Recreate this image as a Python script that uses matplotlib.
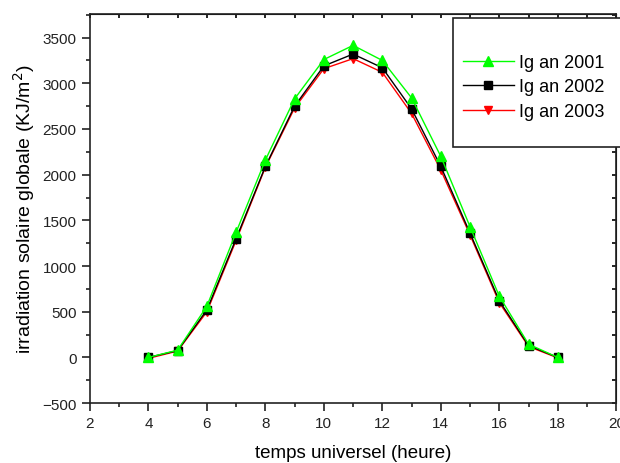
import matplotlib.pyplot as plt
from matplotlib.patches import Rectangle
from matplotlib.ticker import MultipleLocator

plt.rcParams['font.family'] = ['Liberation Sans', 'DejaVu Sans']

heures = [4, 5, 6, 7, 8, 9, 10, 11, 12, 13, 14, 15, 16, 17, 18]
ig_2001 = [0, 80, 560, 1370, 2160, 2830, 3260, 3415, 3250, 2840, 2200, 1430, 670, 145, 0]
ig_2002 = [0, 75, 520, 1300, 2090, 2750, 3190, 3320, 3170, 2720, 2090, 1360, 620, 130, 0]
ig_2003 = [-10, 70, 500, 1280, 2080, 2730, 3160, 3270, 3120, 2670, 2050, 1340, 600, 120, -5]

fig = plt.figure(figsize=(6.2, 4.64), dpi=100)
ax = fig.add_axes([0.145, 0.129, 0.849, 0.839])

ax.plot(heures, ig_2003, color='red', lw=1, marker='v', ms=5.5, label='Ig an 2003', zorder=3)
ax.plot(heures, ig_2002, color='black', lw=1, marker='s', ms=6, label='Ig an 2002', zorder=4)
ax.plot(heures, ig_2001, color='#00ff00', lw=1, marker='^', ms=7.5, label='Ig an 2001', zorder=5)

ax.set_xlim(2, 20)
ax.set_ylim(-500, 3760)
ax.xaxis.set_major_locator(MultipleLocator(2))
ax.xaxis.set_minor_locator(MultipleLocator(1))
ax.yaxis.set_major_locator(MultipleLocator(500))
ax.yaxis.set_minor_locator(MultipleLocator(250))
ax.tick_params(which='both', direction='out', labelsize=11, width=1.2, colors='#222222')
ax.tick_params(which='major', length=6)
ax.tick_params(which='minor', length=3)
for s in ax.spines.values():
    s.set_linewidth(1.2)
    s.set_color('#222222')

# inward ticks along the top and right edges
top = ax.secondary_xaxis('top')
top.xaxis.set_major_locator(MultipleLocator(1))
top.tick_params(direction='in', labeltop=False, width=1.2, length=3)
right = ax.secondary_yaxis('right')
right.yaxis.set_major_locator(MultipleLocator(250))
right.tick_params(direction='in', labelright=False, width=1.2, length=3)

ax.set_xlabel('temps universel (heure)', fontsize=13.5, labelpad=10)
ax.set_ylabel('irradiation solaire globale (KJ/m$^2$)', fontsize=14, labelpad=4)

# legend box runs past the right edge of the figure
fig.patches.append(Rectangle((453 / 620, 1 - 148 / 464), 0.4, (148 - 19) / 464,
                             transform=fig.transFigure, fill=True, facecolor='white',
                             edgecolor='#222222', lw=1.2, zorder=10))
handles, labels = ax.get_legend_handles_labels()
leg = fig.legend(handles[::-1], labels[::-1], loc='center left',
                 bbox_to_anchor=(463 / 620, 1 - 88 / 464), fontsize=13,
                 frameon=False, handlelength=2.8, handletextpad=0.3,
                 labelspacing=0.42, borderpad=0, borderaxespad=0)
leg.set_zorder(11)

fig.savefig('out.png', dpi=100)
